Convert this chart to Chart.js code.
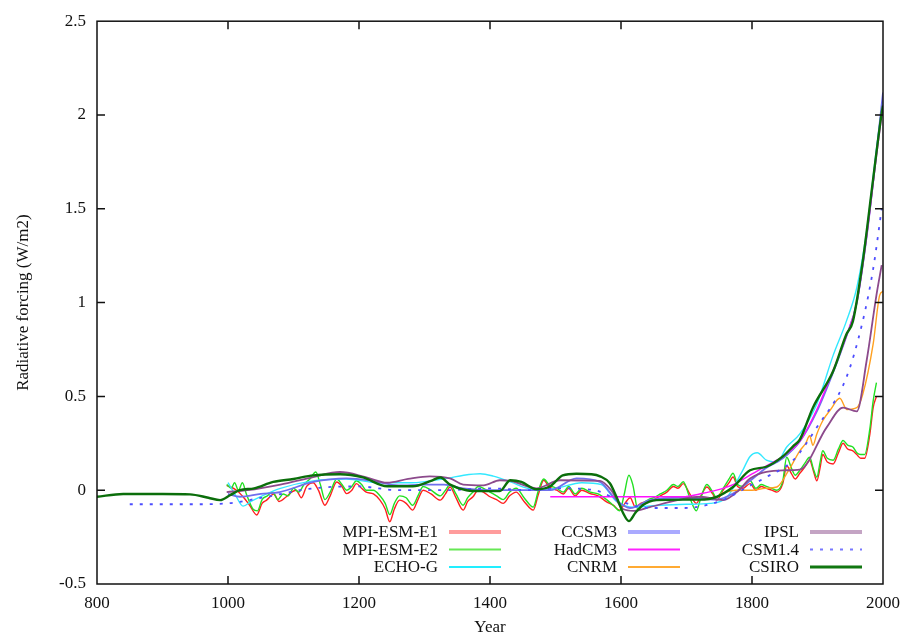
<!DOCTYPE html>
<html>
<head>
<meta charset="utf-8">
<script src="https://cdn.jsdelivr.net/npm/chart.js@4/dist/chart.umd.min.js"></script>
<style>
  body { margin: 0; background: #fff; }
  canvas { display: block; }
</style>
</head>
<body>
<canvas id="forcingChart" width="910" height="639"></canvas>
<script>
// series (year, W/m2)
const e1Years = [998,1013,1023,1033,1044,1052,1059,1070,1078,1089,1097,1104,1112,1120,1130,1138,1148,1156,1166,1174,1181,1189,1196,1204,1211,1222,1232,1240,1247,1254,1262,1272,1282,1290,1298,1310,1324,1332,1339,1348,1359,1366,1374,1382,1390,1400,1410,1420,1430,1440,1452,1466,1474,1482,1490,1502,1512,1520,1530,1540,1553,1565,1578,1588,1598,1606,1614,1622,1630,1640,1650,1660,1670,1680,1687,1695,1705,1715,1722,1731,1740,1746,1756,1765,1771,1778,1786,1797,1806,1814,1822,1830,1838,1847,1853,1860,1866,1873,1880,1888,1894,1899,1904,1908,1915,1924,1932,1939,1946,1954,1960,1966,1972,1980,1985,1990];
const e1Values = [0.026,0.0,-0.035,-0.08,-0.132,-0.07,-0.053,-0.02,-0.06,-0.035,-0.01,0.0,-0.04,0.02,0.04,0.0,-0.08,-0.03,0.044,0.02,-0.018,0.0,0.035,0.01,-0.01,-0.02,-0.053,-0.1,-0.168,-0.1,-0.053,-0.07,-0.106,-0.05,0.0,-0.02,-0.053,-0.02,0.017,-0.04,-0.106,-0.06,-0.035,0.0,-0.01,-0.035,-0.05,-0.07,-0.03,-0.01,-0.06,-0.106,-0.02,0.053,0.02,0.0,-0.02,0.01,-0.03,0.0,-0.018,-0.03,-0.062,-0.08,-0.106,-0.07,-0.04,-0.09,-0.07,-0.06,-0.05,-0.03,-0.01,0.02,0.01,0.035,-0.02,-0.07,-0.03,0.017,-0.02,-0.053,0.0,0.04,0.07,0.02,0.01,0.035,0.0,0.02,0.01,0.0,-0.01,0.035,0.13,0.09,0.06,0.09,0.12,0.16,0.1,0.05,0.12,0.19,0.15,0.14,0.2,0.25,0.22,0.21,0.19,0.17,0.17,0.3,0.44,0.5];

const e2Years = [998,1005,1010,1016,1022,1028,1038,1045,1052,1060,1068,1076,1084,1092,1100,1108,1116,1125,1134,1141,1148,1156,1166,1174,1181,1189,1196,1204,1211,1222,1232,1240,1247,1254,1262,1272,1282,1290,1298,1310,1324,1332,1339,1348,1359,1366,1374,1382,1390,1400,1410,1420,1430,1440,1452,1466,1474,1482,1490,1502,1512,1520,1530,1540,1553,1565,1578,1588,1598,1605,1612,1618,1626,1634,1642,1650,1660,1670,1680,1687,1695,1705,1715,1722,1731,1740,1746,1756,1765,1771,1778,1786,1797,1806,1814,1822,1830,1838,1847,1853,1860,1866,1873,1880,1888,1894,1899,1904,1908,1915,1924,1932,1939,1946,1954,1960,1966,1972,1980,1985,1990];
const e2Values = [0.03,0.01,0.04,0.0,0.04,-0.02,-0.1,-0.11,-0.05,-0.03,-0.01,-0.05,-0.02,-0.03,0.01,-0.01,0.03,0.06,0.097,0.03,-0.05,-0.01,0.06,0.03,0.0,0.02,0.05,0.03,0.0,0.0,-0.03,-0.07,-0.13,-0.07,-0.03,-0.04,-0.08,-0.03,0.02,0.0,-0.03,0.0,0.03,-0.02,-0.08,-0.04,-0.01,0.02,0.01,-0.01,-0.03,-0.05,-0.01,0.01,-0.04,-0.09,0.0,0.06,0.03,0.01,-0.01,0.02,-0.02,0.01,-0.01,-0.02,-0.05,-0.08,-0.11,-0.02,0.08,0.03,-0.106,-0.07,-0.05,-0.04,-0.02,0.0,0.03,0.02,0.045,-0.04,-0.11,-0.04,0.03,-0.01,-0.04,0.01,0.06,0.09,0.03,0.02,0.05,0.01,0.03,0.02,0.01,0.0,0.05,0.176,0.12,0.08,0.106,0.14,0.176,0.11,0.07,0.15,0.21,0.17,0.16,0.22,0.265,0.24,0.23,0.2,0.19,0.19,0.33,0.476,0.573];

const echoYears = [1000,1012,1023,1035,1049,1080,1130,1180,1230,1280,1334,1360,1385,1405,1431,1466,1500,1540,1570,1593,1620,1660,1700,1736,1761,1785,1797,1808,1822,1838,1853,1873,1899,1924,1944,1960,1975,1990,2000];
const echoValues = [0.04,-0.03,-0.085,-0.06,-0.035,0.01,0.05,0.06,0.04,0.04,0.063,0.08,0.088,0.075,0.044,0.005,0.01,0.04,0.03,-0.06,-0.09,-0.08,-0.075,-0.07,-0.04,0.1,0.18,0.2,0.16,0.15,0.23,0.3,0.46,0.72,0.9,1.08,1.38,1.82,2.08];

const ccsmYears = [1000,1018,1050,1079,1130,1181,1220,1260,1300,1330,1359,1415,1492,1532,1568,1593,1614,1644,1695,1746,1771,1797,1822,1847,1873,1899,1924,1944,1960,1975,1990,2000];
const ccsmValues = [-0.02,-0.035,-0.02,-0.01,0.044,0.063,0.05,0.025,0.03,0.03,0.01,0.0,0.0,0.063,0.044,-0.053,-0.095,-0.053,-0.04,-0.05,-0.018,0.05,0.12,0.17,0.26,0.42,0.63,0.82,1.0,1.35,1.8,2.12];

const hadYears = [1492,1695,1720,1746,1771,1797,1822,1847,1873,1899,1924,1944,1960,1975,1990,2000];
const hadValues = [-0.035,-0.035,-0.02,0.0,0.03,0.08,0.13,0.18,0.26,0.43,0.64,0.82,1.0,1.35,1.78,2.05];

const cnrmYears = [1750,1775,1800,1820,1838,1855,1873,1882,1888,1893,1899,1908,1920,1934,1945,1960,1969,1985,1995,2000];
const cnrmValues = [-0.02,0.0,0.0,0.01,0.017,0.1,0.21,0.25,0.29,0.24,0.3,0.37,0.43,0.49,0.43,0.44,0.51,0.78,1.04,1.06];

const ipslYears = [998,1030,1080,1130,1171,1210,1243,1275,1308,1339,1359,1390,1415,1431,1471,1507,1568,1585,1603,1620,1644,1690,1721,1756,1780,1797,1847,1873,1914,1939,1960,1975,1990,1998];
const ipslValues = [-0.01,0.0,0.03,0.07,0.097,0.07,0.04,0.06,0.074,0.063,0.03,0.026,0.053,0.05,0.01,0.053,0.05,0.0,-0.1,-0.11,-0.09,-0.05,-0.035,-0.053,0.0,0.063,0.106,0.11,0.335,0.44,0.42,0.69,1.04,1.2];

const csm14Years = [850,950,1000,1059,1130,1200,1260,1334,1400,1460,1507,1560,1600,1644,1695,1750,1800,1822,1863,1899,1944,1969,1985,1998];
const csm14Values = [-0.075,-0.075,-0.07,-0.035,0.01,0.02,0.0,0.0,0.01,0.0,0.01,0.0,-0.06,-0.095,-0.095,-0.06,0.03,0.07,0.16,0.335,0.6,0.9,1.18,1.5];

const csiroYears = [800,840,900,942,970,988,1003,1018,1040,1069,1100,1130,1171,1206,1243,1282,1310,1324,1339,1364,1390,1415,1431,1448,1471,1492,1511,1532,1555,1568,1583,1593,1603,1612,1622,1633,1654,1695,1721,1746,1771,1797,1822,1847,1863,1873,1893,1924,1944,1954,1969,1985,1998,2000];
const csiroValues = [-0.035,-0.02,-0.02,-0.022,-0.04,-0.053,-0.027,0.0,0.01,0.044,0.06,0.079,0.085,0.068,0.021,0.021,0.05,0.068,0.03,0.0,-0.005,-0.005,0.053,0.044,0.005,0.021,0.079,0.088,0.085,0.074,0.037,-0.035,-0.12,-0.165,-0.12,-0.08,-0.053,-0.05,-0.05,-0.035,0.017,0.106,0.125,0.18,0.235,0.27,0.44,0.635,0.83,0.9,1.217,1.66,2.01,2.05];

const seriesNames = ["MPI-ESM-E1","MPI-ESM-E2","ECHO-G","CCSM3","HadCM3","CNRM","IPSL","CSM1.4","CSIRO"];

const FONT = "'Liberation Serif', 'Times New Roman', serif";

function pts(years, values) {
  return years.map((y, i) => ({ x: y, y: values[i] }));
}

// line look in the plot, and a separate (paler) look for the key samples
const styles = [
  { color: "#ff1f1f", width: 1.4, key: "#ff9c9c", keyWidth: 4 },
  { color: "#22e022", width: 1.4, key: "#66e855", keyWidth: 2 },
  { color: "#33e8ff", width: 1.4, key: "#22eeff", keyWidth: 2 },
  { color: "#6f6fee", width: 1.8, key: "#aaaaff", keyWidth: 4 },
  { color: "#ff10ff", width: 1.4, key: "#ff22ff", keyWidth: 2 },
  { color: "#ffa020", width: 1.4, key: "#ffaa33", keyWidth: 2 },
  { color: "#8c4a8c", width: 1.8, key: "#c4a4c4", keyWidth: 4 },
  { color: "#4d4dff", width: 1.8, key: "#7777ff", keyWidth: 2, dash: [3, 7] },
  { color: "#0b6e0b", width: 2.4, key: "#117711", keyWidth: 3 },
];

const seriesData = [
  pts(e1Years, e1Values),
  pts(e2Years, e2Values),
  pts(echoYears, echoValues),
  pts(ccsmYears, ccsmValues),
  pts(hadYears, hadValues),
  pts(cnrmYears, cnrmValues),
  pts(ipslYears, ipslValues),
  pts(csm14Years, csm14Values),
  pts(csiroYears, csiroValues),
];

const datasets = seriesNames.map((name, i) => ({
  label: name,
  data: seriesData[i],
  borderColor: styles[i].color,
  borderWidth: styles[i].width,
  borderDash: styles[i].dash || [],
  pointRadius: 0,
  fill: false,
  cubicInterpolationMode: "monotone",
  order: seriesNames.length - i, // later series drawn on top
}));

// frame with inward ticks on all four sides (gnuplot style)
const framePlugin = {
  id: "frame",
  afterDatasetsDraw(chart) {
    const { ctx, chartArea: a, scales } = chart;
    ctx.save();
    ctx.strokeStyle = "#111";
    ctx.lineWidth = 1.5;
    ctx.strokeRect(a.left, a.top, a.right - a.left, a.bottom - a.top);
    const len = 8;
    ctx.beginPath();
    for (let v = 1000; v < 2000; v += 200) {
      const px = scales.x.getPixelForValue(v);
      ctx.moveTo(px, a.bottom); ctx.lineTo(px, a.bottom - len);
      ctx.moveTo(px, a.top); ctx.lineTo(px, a.top + len);
    }
    for (let v = 0; v <= 2; v += 0.5) {
      const py = scales.y.getPixelForValue(v);
      ctx.moveTo(a.left, py); ctx.lineTo(a.left + len, py);
      ctx.moveTo(a.right, py); ctx.lineTo(a.right - len, py);
    }
    ctx.stroke();
    ctx.restore();
  },
};

// key inside the plot: 3 columns, right-aligned text then a sample line
const keyPlugin = {
  id: "key",
  afterDraw(chart) {
    const { ctx } = chart;
    const textRight = [438, 617, 799];
    const rows = [532, 549.5, 567];
    ctx.save();
    ctx.font = "17px " + FONT;
    ctx.textAlign = "right";
    ctx.textBaseline = "middle";
    seriesNames.forEach((name, i) => {
      const col = Math.floor(i / 3), row = i % 3;
      const y = rows[row];
      ctx.fillStyle = "#111";
      ctx.fillText(name, textRight[col], y + 1);
      const s = styles[i];
      ctx.strokeStyle = s.key;
      ctx.lineWidth = s.keyWidth;
      ctx.setLineDash(s.dash || []);
      ctx.beginPath();
      ctx.moveTo(textRight[col] + 11, y);
      ctx.lineTo(textRight[col] + 63, y);
      ctx.stroke();
    });
    ctx.restore();
  },
};

new Chart(document.getElementById("forcingChart"), {
  type: "line",
  data: { datasets },
  plugins: [framePlugin, keyPlugin],
  options: {
    responsive: false,
    animation: false,
    layout: { padding: { top: 17, right: 27, left: 0, bottom: 0 } },
    plugins: { legend: { display: false }, tooltip: { enabled: false } },
    scales: {
      x: {
        type: "linear",
        min: 800,
        max: 2000,
        grid: { display: false, drawTicks: false },
        border: { display: false },
        ticks: { stepSize: 200, padding: 9, color: "#111", font: { family: FONT, size: 17 }, callback: (v) => String(v) },
        title: { display: true, text: "Year", color: "#111", padding: { top: 0, bottom: 1 }, font: { family: FONT, size: 17 } },
        afterFit(scale) { scale.height = 55; },
      },
      y: {
        min: -0.5,
        max: 2.5,
        grid: { display: false, drawTicks: false },
        border: { display: false },
        ticks: { stepSize: 0.5, padding: 11, color: "#111", font: { family: FONT, size: 17 }, callback: (v) => String(v) },
        title: { display: true, text: "Radiative forcing (W/m2)", color: "#111", padding: { top: 13, bottom: 0 }, font: { family: FONT, size: 17 } },
        afterFit(scale) { scale.width = 97; },
      },
    },
  },
});
</script>
</body>
</html>
